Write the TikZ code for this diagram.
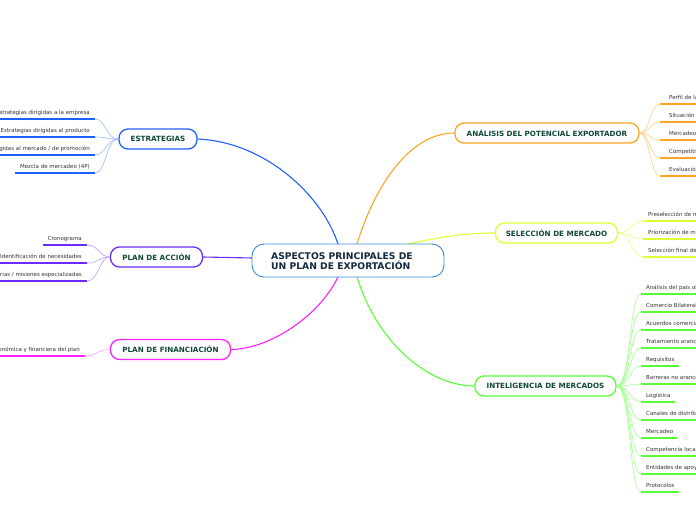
\documentclass[tikz,border=0pt]{standalone}
\usepackage{fontspec}
\setmainfont{DejaVu Sans}
\definecolor{cblue}{HTML}{2060FF}
\definecolor{cpurple}{HTML}{6A2CFF}
\definecolor{cmag}{HTML}{FF22FF}
\definecolor{corange}{HTML}{FFA526}
\definecolor{cyellow}{HTML}{DDFF33}
\definecolor{cgreen}{HTML}{55FF33}
\definecolor{ccenter}{HTML}{3A8DD6}
\definecolor{ttitle}{HTML}{13293F}
\definecolor{tbranch}{HTML}{11473A}
\definecolor{tleaf}{HTML}{333333}
\tikzset{
  centerbox/.style={draw=ccenter, line width=0.9pt, rounded corners=12pt, fill=white,
    minimum width=192pt, minimum height=33pt, inner sep=0pt},
  branchbox/.style={draw=#1, line width=1.3pt, rounded corners=9pt, fill=white,
    minimum height=20pt, inner sep=0pt, text=tbranch,
    font=\fontsize{7.2}{8.5}\selectfont\bfseries},
  leaftext/.style={inner sep=0pt, text=tleaf, font=\fontsize{5.5}{6.5}\selectfont},
  ul/.style={draw=#1, line width=1.8pt},
  thinlink/.style={draw=#1, line width=0.6pt},
  mainlink/.style={draw=#1, line width=1.1pt},
}
\begin{document}
\begin{tikzpicture}[x=1pt,y=-1pt]
\useasboundingbox (0,0) rectangle (696,520);
\clip (0,0) rectangle (696,520);
\fill[white] (0,0) rectangle (696,520);

\coordinate (cTL) at (338,244);
\coordinate (cTR) at (357,244);
\coordinate (cTY) at (408,244);
\coordinate (cBL) at (338,277);
\coordinate (cBR) at (357,277);
\coordinate (cL) at (253,258);

\node[branchbox=cblue, minimum width=78pt] (est) at (158,139) {ESTRATEGIAS};
\node[branchbox=cpurple, minimum width=92pt] (acc) at (156.5,257) {PLAN DE ACCIÓN};
\node[branchbox=cmag, minimum width=120pt] (fin) at (170.5,349.5) {PLAN DE FINANCIACIÓN};
\node[branchbox=corange, minimum width=184pt] (ana) at (547,133) {ANÁLISIS DEL POTENCIAL EXPORTADOR};
\node[branchbox=cyellow, minimum width=122pt] (sel) at (556.5,233) {SELECCIÓN DE MERCADO};
\node[branchbox=cgreen, minimum width=141pt] (intl) at (545.5,386) {INTELIGENCIA DE MERCADOS};

\draw[mainlink=cblue] (cTL) .. controls (322,195) and (265,142) .. (est.east);
\draw[mainlink=corange] (cTR) .. controls (375,185) and (410,133) .. (ana.west);
\draw[mainlink=cyellow] (cTY) .. controls (440,237) and (465,233) .. (sel.west);
\draw[mainlink=cpurple] (cL) -- (acc.east);
\draw[mainlink=cmag] (cBL) .. controls (318,318) and (268,349) .. (fin.east);
\draw[mainlink=cgreen] (cBR) .. controls (378,345) and (430,386) .. (intl.west);

\node[centerbox] (center) at (348,260.5) {};
\node[anchor=west, inner sep=0pt, align=left, text=ttitle,
  font=\fontsize{9.2}{10.5}\selectfont\bfseries] (ctext) at (271,261) {ASPECTOS PRINCIPALES DE\\UN PLAN DE EXPORTACIÓN};

% ESTRATEGIAS leaves
\foreach \i/\uy/\ux/\t in {1/119/0/{Estrategias dirigidas a la empresa},
  2/137/0/{Estrategias dirigidas al producto},
  3/155/0/{Estrategias dirigidas al mercado / de promoción},
  4/173/15/{Mezcla de mercadeo (4P)}}{
  \coordinate (ea\i) at (95,\uy);
  \coordinate (eb\i) at (\ux,\uy);
  \draw[ul=cblue] (ea\i) -- (eb\i);
  \draw[thinlink=cblue!45] (est.west) .. controls (106,139) and (106,\uy) .. (ea\i);
  \node[leaftext, anchor=base east] (et\i) at (90,\uy-5) {\t};
}

% PLAN DE ACCION leaves
\foreach \i/\uy/\ux/\t in {1/245/43/{Cronograma},
  2/263/0/{Identificación de necesidades},
  3/281/0/{Ferias / misiones especializadas}}{
  \coordinate (aa\i) at (87,\uy);
  \coordinate (ab\i) at (\ux,\uy);
  \draw[ul=cpurple] (aa\i) -- (ab\i);
  \draw[thinlink=cpurple!45] (acc.west) .. controls (99,257) and (99,\uy) .. (aa\i);
  \node[leaftext, anchor=base east] (at\i) at (82,\uy-5) {\t};
}

% PLAN DE FINANCIACION leaf
\coordinate (fa1) at (85,356);
\coordinate (fb1) at (0,356);
\draw[ul=cmag] (fa1) -- (fb1);
\draw[thinlink=cmag!45] (fin.west) .. controls (97,349.5) and (97,356) .. (fa1);
\node[leaftext, anchor=base east] (ft1) at (80,351) {Evaluación económica y financiera del plan};

% ANALISIS leaves
\foreach \i/\uy/\t in {1/104/{Perfil de la empresa},
  2/122/{Situación actual},
  3/140/{Mercadeo internacional},
  4/158/{Competitividad},
  5/176/{Evaluación}}{
  \coordinate (na\i) at (660,\uy);
  \coordinate (nb\i) at (700,\uy);
  \draw[ul=corange] (na\i) -- (nb\i);
  \draw[thinlink=corange!55] (ana.east) .. controls (650,133) and (650,\uy) .. (na\i);
  \node[leaftext, anchor=base west] (nt\i) at (669,\uy-5) {\t};
}

% SELECCION leaves
\foreach \i/\uy/\t in {1/221/{Preselección de mercados},
  2/239/{Priorización de mercados},
  3/257/{Selección final de mercados}}{
  \coordinate (sa\i) at (643,\uy);
  \coordinate (sb\i) at (700,\uy);
  \draw[ul=cyellow] (sa\i) -- (sb\i);
  \draw[thinlink=cyellow!70] (sel.east) .. controls (631,233) and (631,\uy) .. (sa\i);
  \node[leaftext, anchor=base west] (st\i) at (648,\uy-5) {\t};
}

% INTELIGENCIA leaves
\foreach \i/\uy/\ue/\t in {1/294/700/{Análisis del país objetivo},
  2/312/700/{Comercio Bilateral},
  3/330/700/{Acuerdos comerciales},
  4/348/700/{Tratamiento arancelario},
  5/366/679/{Requisitos},
  6/384/700/{Barreras no arancelarias},
  7/402/675/{Logística},
  8/420/700/{Canales de  distribución},
  9/438/677/{Mercadeo},
  10/456/700/{Competencia local},
  11/474/700/{Entidades de apoyo},
  12/492/679/{Protocolos}}{
  \coordinate (ia\i) at (641,\uy);
  \coordinate (ib\i) at (\ue,\uy);
  \draw[ul=cgreen] (ia\i) -- (ib\i);
  \draw[thinlink=cgreen!55] (intl.east) .. controls (631,386) and (629,\uy) .. (ia\i);
  \node[leaftext, anchor=base west] (it\i) at (646,\uy-5) {\t};
}
\end{tikzpicture}
\end{document}
